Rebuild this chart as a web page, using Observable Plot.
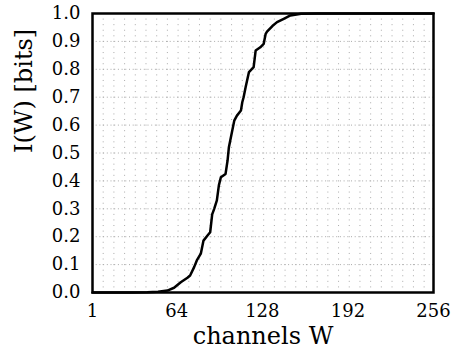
<!DOCTYPE html>
<html>
<head>
<meta charset="utf-8">
<script src="https://cdn.jsdelivr.net/npm/d3@7"></script>
<script src="https://cdn.jsdelivr.net/npm/@observablehq/plot@0.6"></script>
<style>
  html, body { margin: 0; padding: 0; background: #fff; }
  #chart svg { display: block; }
</style>
</head>
<body>
<div id="chart"></div>
<script>
// channels W (x) and information I(W) in bits (y)
const channels = [1, 30, 42, 50, 57, 62, 67, 72, 74, 77, 79, 82, 84, 87, 89, 90.5, 92, 94, 95.5, 97, 100.5, 102, 103, 104, 107, 109, 112, 113, 114, 115.5, 118, 121.5, 123, 126.5, 129, 130.5, 131.5, 135.5, 139, 144, 149, 157, 169, 179, 256];
const bits = [0, 0, 0.001, 0.003, 0.007, 0.017, 0.037, 0.053, 0.061, 0.091, 0.115, 0.139, 0.186, 0.204, 0.216, 0.28, 0.30, 0.33, 0.384, 0.413, 0.425, 0.473, 0.521, 0.545, 0.616, 0.634, 0.652, 0.682, 0.70, 0.736, 0.79, 0.808, 0.867, 0.879, 0.891, 0.927, 0.935, 0.955, 0.969, 0.981, 0.993, 0.999, 1.0, 1.0, 1.0];

const xTicks = [1, 64, 128, 192, 256];
const yTicks = [0, 0.1, 0.2, 0.3, 0.4, 0.5, 0.6, 0.7, 0.8, 0.9, 1.0];
const xGrid = d3.range(9, 256, 8);
const yGrid = [0.1, 0.2, 0.3, 0.4, 0.5, 0.6, 0.7, 0.8, 0.9];
const xLabel = "channels W";
const yLabel = "I(W) [bits]";

const data = channels.map((w, i) => ({w, I: bits[i]}));

const chart = Plot.plot({
  width: 460,
  height: 354,
  marginTop: 13,
  marginLeft: 92,
  marginRight: 27,
  marginBottom: 62,
  style: {fontFamily: "'DejaVu Serif', serif", fontSize: "18px", background: "#fff", color: "#000"},
  x: {domain: [1, 256]},
  y: {domain: [0, 1]},
  marks: [
    Plot.ruleX(xGrid, {stroke: "#aaa", strokeWidth: 1, strokeDasharray: "1,4.58"}),
    Plot.ruleY(yGrid, {stroke: "#aaa", strokeWidth: 1, strokeDasharray: "1,2.7"}),
    Plot.line(data, {x: "w", y: "I", stroke: "#000", strokeWidth: 2.5}),
    Plot.frame({stroke: "#000", strokeWidth: 2.5}),
    Plot.axisX({ticks: xTicks, tickSize: 0, tickPadding: 12, fontSize: 18, label: null, tickFormat: d => String(d)}),
    Plot.axisY({ticks: yTicks, tickSize: 0, tickPadding: 12, fontSize: 18, label: null, tickFormat: d3.format(".1f")}),
    Plot.text([xLabel], {frameAnchor: "bottom", lineAnchor: "bottom", dy: 51, fontSize: 24, text: d => d}),
    Plot.text([yLabel], {frameAnchor: "left", rotate: -90, dx: -68, fontSize: 24, text: d => d})
  ]
});
document.getElementById("chart").appendChild(chart);
</script>
</body>
</html>
